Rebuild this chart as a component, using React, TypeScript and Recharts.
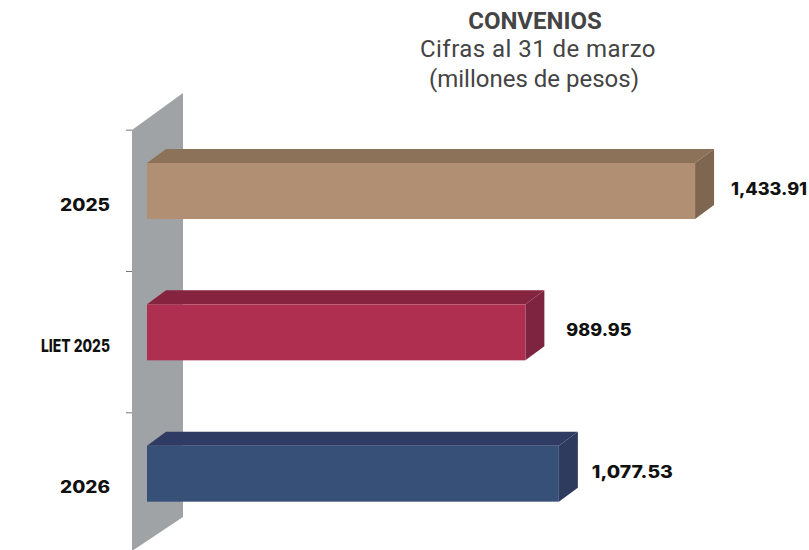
import { BarChart, Bar, XAxis, YAxis, LabelList } from "recharts";

const categories = ["2025", "LIET 2025", "2026"];
const values = [1433.91, 989.95, 1077.53];
const valueLabels = ["1,433.91", "989.95", "1,077.53"];

const frontColors = ["#B08F72", "#AE2F50", "#365078"];
const topColors = ["#8C7259", "#862440", "#2F3B62"];
const sideColors = ["#7F6650", "#7E2340", "#2E3A5E"];

const chartData = categories.map((category, i) => ({ category, value: values[i] }));

const DEPTH_X = 19;
const DEPTH_Y = 14;
const BAND_LIFT = 10; // bars sit a bit above the middle of their band
const labelGaps = [36, 41, 33];
const labelWidths = [76, 65, 81];
const tickWidths = [50, 69, 50];

const Bar3D = (props: any) => {
  const { x, width, height, index } = props;
  const y = props.y - BAND_LIFT;
  const right = x + width;
  const bottom = y + height;
  return (
    <g>
      <polygon
        points={`${x},${y} ${x + DEPTH_X},${y - DEPTH_Y} ${right + DEPTH_X},${y - DEPTH_Y} ${right},${y}`}
        fill={topColors[index]}
      />
      <polygon
        points={`${right},${y} ${right + DEPTH_X},${y - DEPTH_Y} ${right + DEPTH_X},${bottom - DEPTH_Y} ${right},${bottom}`}
        fill={sideColors[index]}
      />
      <rect x={x} y={y} width={width} height={height} fill={frontColors[index]} />
    </g>
  );
};

const CategoryTick = (props: any) => {
  const { x, y, payload, index } = props;
  return (
    <g>
      <line x1={x + 16} x2={x + 22} y1={y - 70.5} y2={y - 70.5} stroke="#777" strokeWidth={1} />
      <text
        x={x}
        y={y + 4}
        textAnchor="end"
        dominantBaseline="central"
        fontFamily="Inter"
        fontWeight={800}
        fontSize={17}
        textLength={tickWidths[index]}
        lengthAdjust="spacingAndGlyphs"
        fill="#111"
      >
        {payload.value}
      </text>
    </g>
  );
};

const ValueLabel = (props: any) => {
  const { x, y, width, height, index } = props;
  return (
    <text
      x={x + width + labelGaps[index]}
      y={y + height / 2 - BAND_LIFT - 2}
      dominantBaseline="central"
      fontFamily="Inter"
      fontWeight={800}
      fontSize={17}
      textLength={labelWidths[index]}
      lengthAdjust="spacingAndGlyphs"
      fill="#111"
    >
      {valueLabels[index]}
    </text>
  );
};

const titleLine = {
  position: "absolute",
  width: 400,
  textAlign: "center",
  fontFamily: "Roboto",
  fontSize: 24,
  lineHeight: "28px",
  color: "#444",
} as const;

export default function App() {
  return (
    <div style={{ position: "relative", width: 809, height: 550, overflow: "hidden", background: "#fff" }}>
      <style>{`body{margin:0}`}</style>
      <svg width={809} height={550} style={{ position: "absolute", left: 0, top: 0 }}>
        <polygon points="132,130 183,93 183,517 132,551" fill="#A0A3A5" />
      </svg>
      <div style={{ ...titleLine, left: 335, top: 7, fontWeight: 700, fontSize: 20 * 1.2 }}>CONVENIOS</div>
      <div style={{ ...titleLine, left: 338, top: 35, letterSpacing: 0.45 }}>Cifras al 31 de marzo</div>
      <div style={{ ...titleLine, left: 334, top: 65 }}>(millones de pesos)</div>
      <div style={{ position: "absolute", left: 0, top: 0 }}>
        <BarChart
          width={809}
          height={554}
          data={chartData}
          layout="vertical"
          margin={{ top: 130, right: 0, bottom: 0, left: 0 }}
          barCategoryGap={42}
        >
          <XAxis type="number" hide domain={[0, 1732]} padding={{ left: 15 }} />
          <YAxis
            type="category"
            dataKey="category"
            width={132}
            axisLine={false}
            tickLine={false}
            tickSize={0}
            tickMargin={22}
            tick={<CategoryTick />}
            interval={0}
          />
          <Bar dataKey="value" barSize={56} isAnimationActive={false} shape={<Bar3D />}>
            <LabelList dataKey="value" content={<ValueLabel />} />
          </Bar>
        </BarChart>
      </div>
    </div>
  );
}
